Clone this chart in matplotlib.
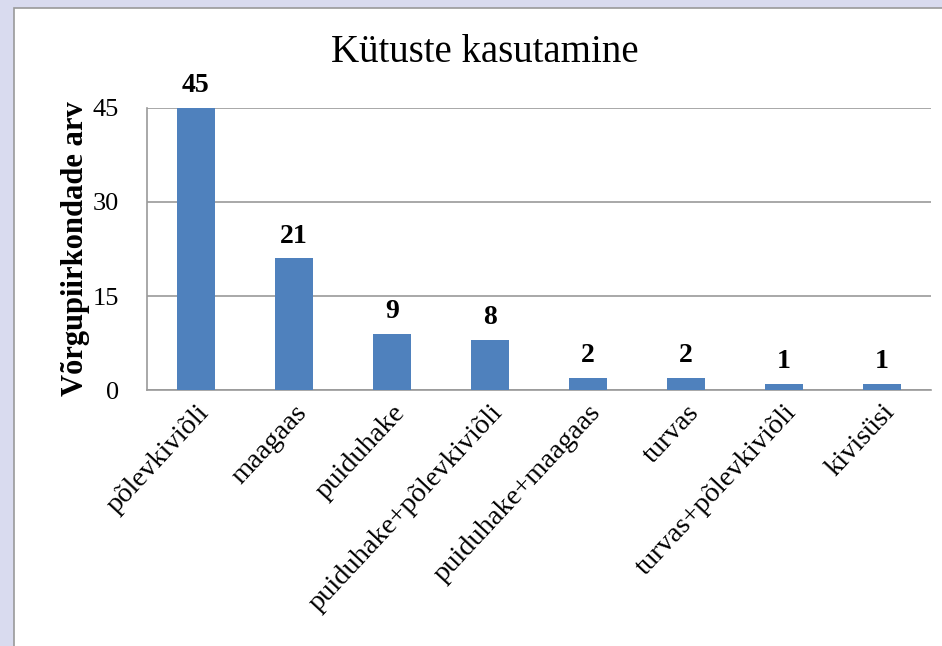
import matplotlib.pyplot as plt
from matplotlib.patches import Rectangle

categories = ['põlevkiviõli', 'maagaas', 'puiduhake', 'puiduhake+põlevkiviõli',
              'puiduhake+maagaas', 'turvas', 'turvas+põlevkiviõli', 'kivisüsi']
values = [45, 21, 9, 8, 2, 2, 1, 1]
yticks = [0, 15, 30, 45]

plt.rcParams['font.family'] = ['Liberation Serif', 'DejaVu Serif']

fig = plt.figure(figsize=(9.42, 6.46), dpi=100)
fig.patch.set_facecolor('#d9dbef')
# white chart area with grey border, kept behind the axes
fig.patches.append(Rectangle((14 / 942, -0.1), 1.1, 1 - 8 / 646 + 0.1,
                             transform=fig.transFigure, facecolor='white',
                             edgecolor='#9a9a9a', linewidth=1.2, zorder=-10))

ax = fig.add_axes([0.156, 0.396, 0.832, 0.437])
ax.set_facecolor('white')
x = range(len(categories))
bars = ax.bar(x, values, width=0.39, color='#4f81bd', zorder=3)
ax.bar_label(bars, padding=7, fontsize=20, fontweight='bold')

ax.set_xlim(-0.5, len(categories) - 0.5)
ax.set_ylim(0, 45)
ax.set_yticks(yticks)
ax.tick_params(axis='y', labelsize=19, length=0, pad=20)
ax.tick_params(axis='x', length=0, labelsize=20.5, pad=7)
ax.set_xticks(list(x))
ax.set_xticklabels(categories, rotation=47, ha='right', rotation_mode='anchor')
ax.yaxis.grid(True, color='#9a9a9a', linewidth=1.2, zorder=0)

for s in ['top', 'right']:
    ax.spines[s].set_visible(False)
for s in ['left', 'bottom']:
    ax.spines[s].set_color('#9a9a9a')
    ax.spines[s].set_linewidth(1.2)

ax.set_ylabel('Võrgupiirkondade arv', fontsize=22, fontweight='bold', labelpad=2)
fig.text(0.515, 0.918, 'Kütuste kasutamine', ha='center', va='center', fontsize=28)

fig.savefig('out.png', dpi=100)
